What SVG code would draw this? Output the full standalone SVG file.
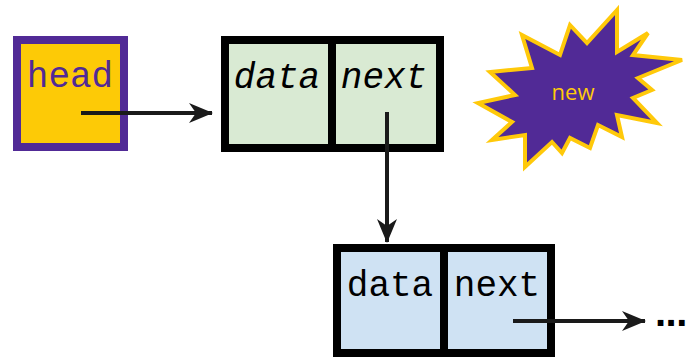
<svg xmlns="http://www.w3.org/2000/svg" width="687" height="357" viewBox="0 0 687 357">
  <defs>
    <marker id="arrow" viewBox="0 0 24 20" refX="23" refY="10" markerWidth="24" markerHeight="20" markerUnits="userSpaceOnUse" orient="auto">
      <path d="M0,0 L24,10 L0,20 L7,10 Z" fill="#1a1a1a"/>
    </marker>
    <style>
      .mono { font-family: "Liberation Mono", "Courier New", monospace; font-size: 36px; fill: #000; text-anchor: middle; }
      .box { stroke: #000; stroke-width: 8; }
      .link { stroke: #1a1a1a; stroke-width: 4; fill: none; marker-end: url(#arrow); }
    </style>
  </defs>
  <rect width="687" height="357" fill="#fff"/>

  <g id="head">
    <rect x="17" y="40" width="107" height="107" fill="#fdca06" stroke="#512a96" stroke-width="8"/>
    <text x="70" y="87" class="mono" style="fill:#512a96">head</text>
  </g>

  <g id="node1">
    <rect x="225" y="40" width="215" height="108" fill="#d9ead3" class="box"/>
    <line x1="332" y1="40" x2="332" y2="148" class="box"/>
    <text x="277" y="88" class="mono" font-style="italic">data</text>
    <text x="384" y="88" class="mono" font-style="italic">next</text>
  </g>

  <g id="new">
    <polygon points="617,10 587,43 570,25 560,55 522,35 532,68 490,72 515,95 478,103 512,122 492,140 525,135 525,167 552,142 562,153 570,138 590,148 598,125 622,137 617,115 657,123 633,98 652,90 638,78 682,60 633,55 648,33 617,52" fill="#512a96" stroke="#ffc90a" stroke-width="4" stroke-linejoin="miter"/>
    <text x="573" y="100" font-family="Open Sans, Liberation Sans, sans-serif" font-size="22" fill="#ffc90a" text-anchor="middle">new</text>
  </g>

  <g id="node2">
    <rect x="337" y="248" width="214" height="105" fill="#cfe2f3" class="box"/>
    <line x1="444" y1="248" x2="444" y2="353" class="box"/>
    <text x="390" y="296" class="mono">data</text>
    <text x="497" y="296" class="mono">next</text>
  </g>

  <g id="more">
    <text x="655" y="326" font-family="Liberation Sans, sans-serif" font-size="40" font-weight="bold" letter-spacing="-0.5" fill="#000">...</text>
  </g>

  <g id="connectors">
    <line x1="81" y1="113" x2="212" y2="113" class="link"/>
    <line x1="387" y1="112" x2="387" y2="242" class="link"/>
    <line x1="513" y1="321" x2="645" y2="321" class="link"/>
  </g>
</svg>
